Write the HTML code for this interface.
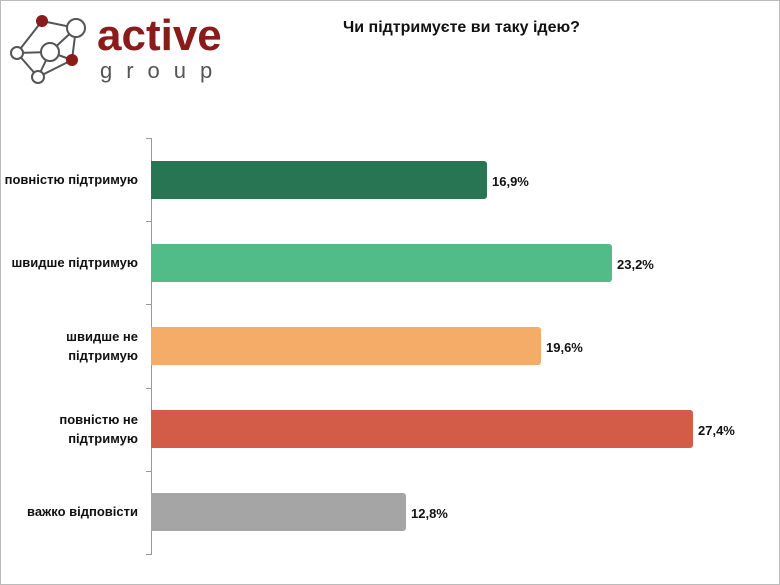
<!DOCTYPE html>
<html><head><meta charset="utf-8"><style>
body{margin:0;width:780px;height:585px;background:#fff;overflow:hidden;font-family:"Liberation Sans",sans-serif;position:relative}
.frame{position:absolute;left:0;top:0;width:778px;height:583px;border:1px solid #bbb}
.bar{position:absolute;left:151px;height:38px;border-radius:0 3px 3px 0}
.v{position:absolute;font-size:13px;font-weight:bold;color:#111}
.l{position:absolute;right:642px;width:150px;text-align:right;font-size:13px;font-weight:bold;color:#111;line-height:19px}
.t{position:absolute;left:146px;width:5px;height:1px;background:#999}
</style></head><body>
<div class="frame"></div>
<svg width="240" height="90" style="position:absolute;left:0;top:0">
<g stroke="#555" stroke-width="2" fill="none">
<polyline points="42,21 76,28 72,60 38,77 17,53 42,21"/>
<line x1="17" y1="53" x2="50" y2="52"/><line x1="50" y1="52" x2="76" y2="28"/>
<line x1="50" y1="52" x2="38" y2="77"/><line x1="50" y1="52" x2="72" y2="60"/>
</g>
<circle cx="42" cy="21" r="6" fill="#8b1a1a"/>
<circle cx="76" cy="28" r="9" fill="#fff" stroke="#555" stroke-width="2"/>
<circle cx="50" cy="52" r="9" fill="#fff" stroke="#555" stroke-width="2"/>
<circle cx="17" cy="53" r="6" fill="#fff" stroke="#555" stroke-width="2"/>
<circle cx="72" cy="60" r="6" fill="#8b1a1a"/>
<circle cx="38" cy="77" r="6" fill="#fff" stroke="#555" stroke-width="2"/>
<text x="97" y="50" font-family="Liberation Sans" font-weight="bold" font-size="44" fill="#8b1a1a">active</text>
<text x="100" y="78" font-family="Liberation Sans" font-size="22" fill="#555" letter-spacing="14">group</text>
</svg>
<div style="position:absolute;left:343px;top:19px;font-size:16px;font-weight:bold;color:#111">Чи підтримуєте ви таку ідею?</div>
<div style="position:absolute;left:151px;top:138px;width:1px;height:417px;background:#999"></div>
<div class="t" style="top:138px"></div><div class="t" style="top:221px"></div><div class="t" style="top:304px"></div><div class="t" style="top:388px"></div><div class="t" style="top:471px"></div><div class="t" style="top:554px"></div>
<div class="bar" style="top:161px;width:336px;background:#277552"></div>
<div class="bar" style="top:244px;width:461px;background:#52bc88"></div>
<div class="bar" style="top:327px;width:390px;background:#f4ac68"></div>
<div class="bar" style="top:410px;width:542px;background:#d35c48"></div>
<div class="bar" style="top:493px;width:255px;background:#a5a5a5"></div>
<div class="v" style="left:492px;top:174px">16,9%</div>
<div class="v" style="left:617px;top:257px">23,2%</div>
<div class="v" style="left:546px;top:340px">19,6%</div>
<div class="v" style="left:698px;top:423px">27,4%</div>
<div class="v" style="left:411px;top:506px">12,8%</div>
<div class="l" style="top:170px">повністю підтримую</div>
<div class="l" style="top:253px">швидше підтримую</div>
<div class="l" style="top:327px">швидше не<br>підтримую</div>
<div class="l" style="top:410px">повністю не<br>підтримую</div>
<div class="l" style="top:502px">важко відповісти</div>
</body></html>
